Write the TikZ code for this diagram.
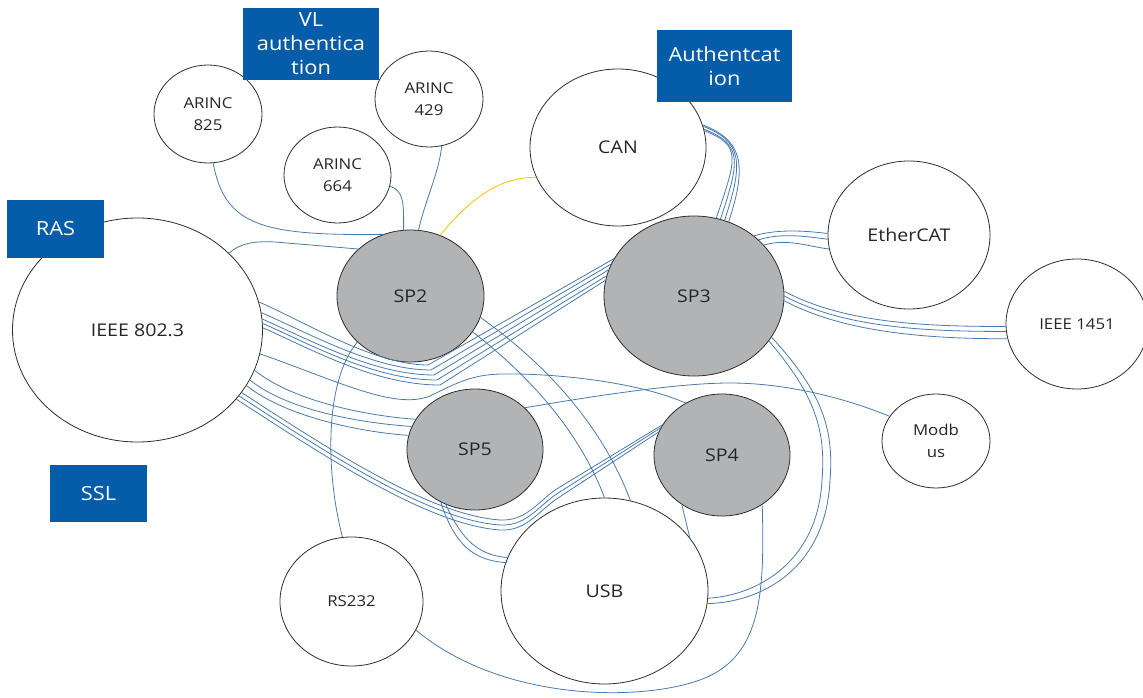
\documentclass[tikz,border=0pt]{standalone}
\usepackage{fontspec}
\setmainfont{Open Sans}[FakeStretch=1.12]
\usetikzlibrary{shapes.geometric}
\definecolor{LinkCol}{RGB}{74,122,172}
\definecolor{CanCol}{RGB}{255,192,0}
\definecolor{BoxCol}{RGB}{5,93,170}
\definecolor{SPFill}{RGB}{178,179,181}
\definecolor{EdgeCol}{RGB}{45,45,45}
\definecolor{TxtCol}{RGB}{38,38,38}
\tikzset{
  sz/.style 2 args={minimum width=#1pt, minimum height=#2pt},
  proto/.style={ellipse, draw=EdgeCol, line width=0.8pt, fill=white, inner sep=0pt,
    text=TxtCol, align=center, font=\fontsize{17.5}{21}\selectfont},
  smalltxt/.style={font=\fontsize{15}{22}\selectfont},
  spnode/.style={proto, fill=SPFill},
  secbox/.style={fill=BoxCol, text=white, inner sep=0pt, align=center,
    font=\fontsize{19.5}{24}\selectfont},
  link/.style={draw=LinkCol, line width=0.8pt},
  canlink/.style={draw=CanCol, line width=0.8pt}
}

\begin{document}
\begin{tikzpicture}[x=1pt,y=-1pt]
  \useasboundingbox (0,0) rectangle (1143,698);
  % protocols
  \node[proto, sz={250}{224}] (ieee) at (137.5,330) {IEEE 802.3};
  \node[proto, smalltxt, sz={108}{98}] (a825) at (208,114) {ARINC\\825};
  \node[proto, smalltxt, sz={108}{96}] (a429) at (429,99) {ARINC\\429};
  \node[proto, smalltxt, sz={107}{96}] (a664) at (337.5,175) {ARINC\\664};
  \node[proto, sz={176}{157}] (can) at (618,147.5) {CAN};
  \node[proto, sz={162}{148}] (ether) at (909,235) {EtherCAT};
  \node[proto, smalltxt, sz={142}{130}] (i1451) at (1077,324) {IEEE 1451};
  \node[proto, smalltxt, sz={108}{94}] (modbus) at (936,441) {Modb\\us};
  \node[proto, sz={207}{186}] (usb) at (604.5,591) {USB};
  \node[proto, smalltxt, sz={143}{129}] (rs232) at (351.5,601.5) {RS232};
  % security processors
  \node[spnode, sz={147}{132}] (sp2) at (410.5,296) {SP2};
  \node[spnode, sz={180}{160}] (sp3) at (694,296) {SP3};
  \node[spnode, sz={136}{121}] (sp5) at (475,449.5) {SP5};
  \node[spnode, sz={136}{122}] (sp4) at (722,455) {SP4};

  % links to SP2
  \draw[link] (a825.-84) .. controls (225,225) and (260,236) .. (sp2.114);
  \draw[link] (a664.-12) .. controls (403,191) and (404,200) .. (sp2.96);
  \draw[link] (a429.-75) .. controls +(-2,25) and +(5,-25) .. (sp2.83);
  \draw[canlink] (sp2.64) .. controls (465,205) and (495,177) .. (can.200);
  \draw[link] (ieee.40) .. controls (240,243) and (255,241) .. (275,242) -- (sp2.138);
  \draw[link] (sp2.-17) .. controls (540,360) and (600,420) .. (usb.74);
  \draw[link] (sp2.-30) .. controls (515,365) and (575,420) .. (usb.90);
  \draw[link] (sp2.221) .. controls (325,380) and (325,470) .. (rs232.98);

  % links to SP3
  \foreach \s/\e/\i in {13/155.5/0, 8/159/1, 5.5/163.5/2, 3.5/167/3, 1.5/170.5/4}
    \draw[link] (ieee.\s) .. controls +(50,22) and (375,365+5*\i) .. (428+3*\i,365+5*\i) -- (sp3.\e);
  \foreach \s/\e in {11/74, 12.5/71, 14/68.5, 15.5/65.5}
    \draw[link] (can.\s) .. controls +(38,15) and +(20,-60) .. (sp3.\e);
  \foreach \s/\e in {45/179, 41.5/183, 36/190}
    \draw[link] (sp3.\s) .. controls +(22,-7) and +(-22,-3) .. (ether.\e);
  \foreach \s/\e in {3/182.5, 0/186.5, -3/192}
    \draw[link] (sp3.\s) .. controls +(60,32) and +(-80,0) .. (i1451.\e);
  \draw[link] (sp3.-31) .. controls (815,395) and (826,430) .. (822,480)
    .. controls (818,560) and (760,595) .. (usb.-4);
  \draw[link] (sp3.-28) .. controls (823,393) and (834,430) .. (830,480)
    .. controls (826,566) and (765,602) .. (usb.-7);

  % links to SP5 and SP4
  \foreach \s/\e in {-19.5/153, -24/160, -27.5/168}
    \draw[link] (ieee.\s) .. controls +(40,32) and +(-45,-3) .. (sp5.\e);
  \draw[link] (sp5.-118) .. controls (462,540) and (478,555) .. (usb.161);
  \draw[link] (sp5.-123) .. controls (455,545) and (473,560) .. (usb.164);
  \draw[link] (sp5.40) .. controls (600,395) and (680,383) .. (730,383)
    .. controls (790,383) and (850,400) .. (modbus.152);
  \draw[link] (ieee.-11) .. controls (340,382) and (395,410) .. (430,396)
    .. controls (455,384) and (470,375) .. (500,374)
    .. controls (560,373) and (640,383) .. (sp4.125);
  \foreach \s/\e/\i in {-31/153/0, -33/156.5/1, -35/160/2}
    \draw[link] (ieee.\s) .. controls (330,450+5*\i) and (430,515+5*\i) .. (500,520+5*\i)
      .. controls (525,521+5*\i) and (535,505+5*\i) .. (555,490+5*\i) -- (sp4.\e);
  \draw[link] (sp4.-129) -- (usb.32);
  \draw[link] (sp4.-51) .. controls (765,600) and (760,660) .. (697,681)
    .. controls (634,702) and (500,700) .. (rs232.-24);

  % security labels
  \node[secbox, sz={136}{72}] (vlauth) at (311,44) {VL\\authentica\\tion};
  \node[secbox, sz={135}{72}] (auth) at (724.5,66) {Authentcat\\ion};
  \node[secbox, sz={97}{58}] (ras) at (55.5,229) {RAS};
  \node[secbox, sz={97}{57}] (ssl) at (98.5,493.5) {SSL};
\end{tikzpicture}
\end{document}
